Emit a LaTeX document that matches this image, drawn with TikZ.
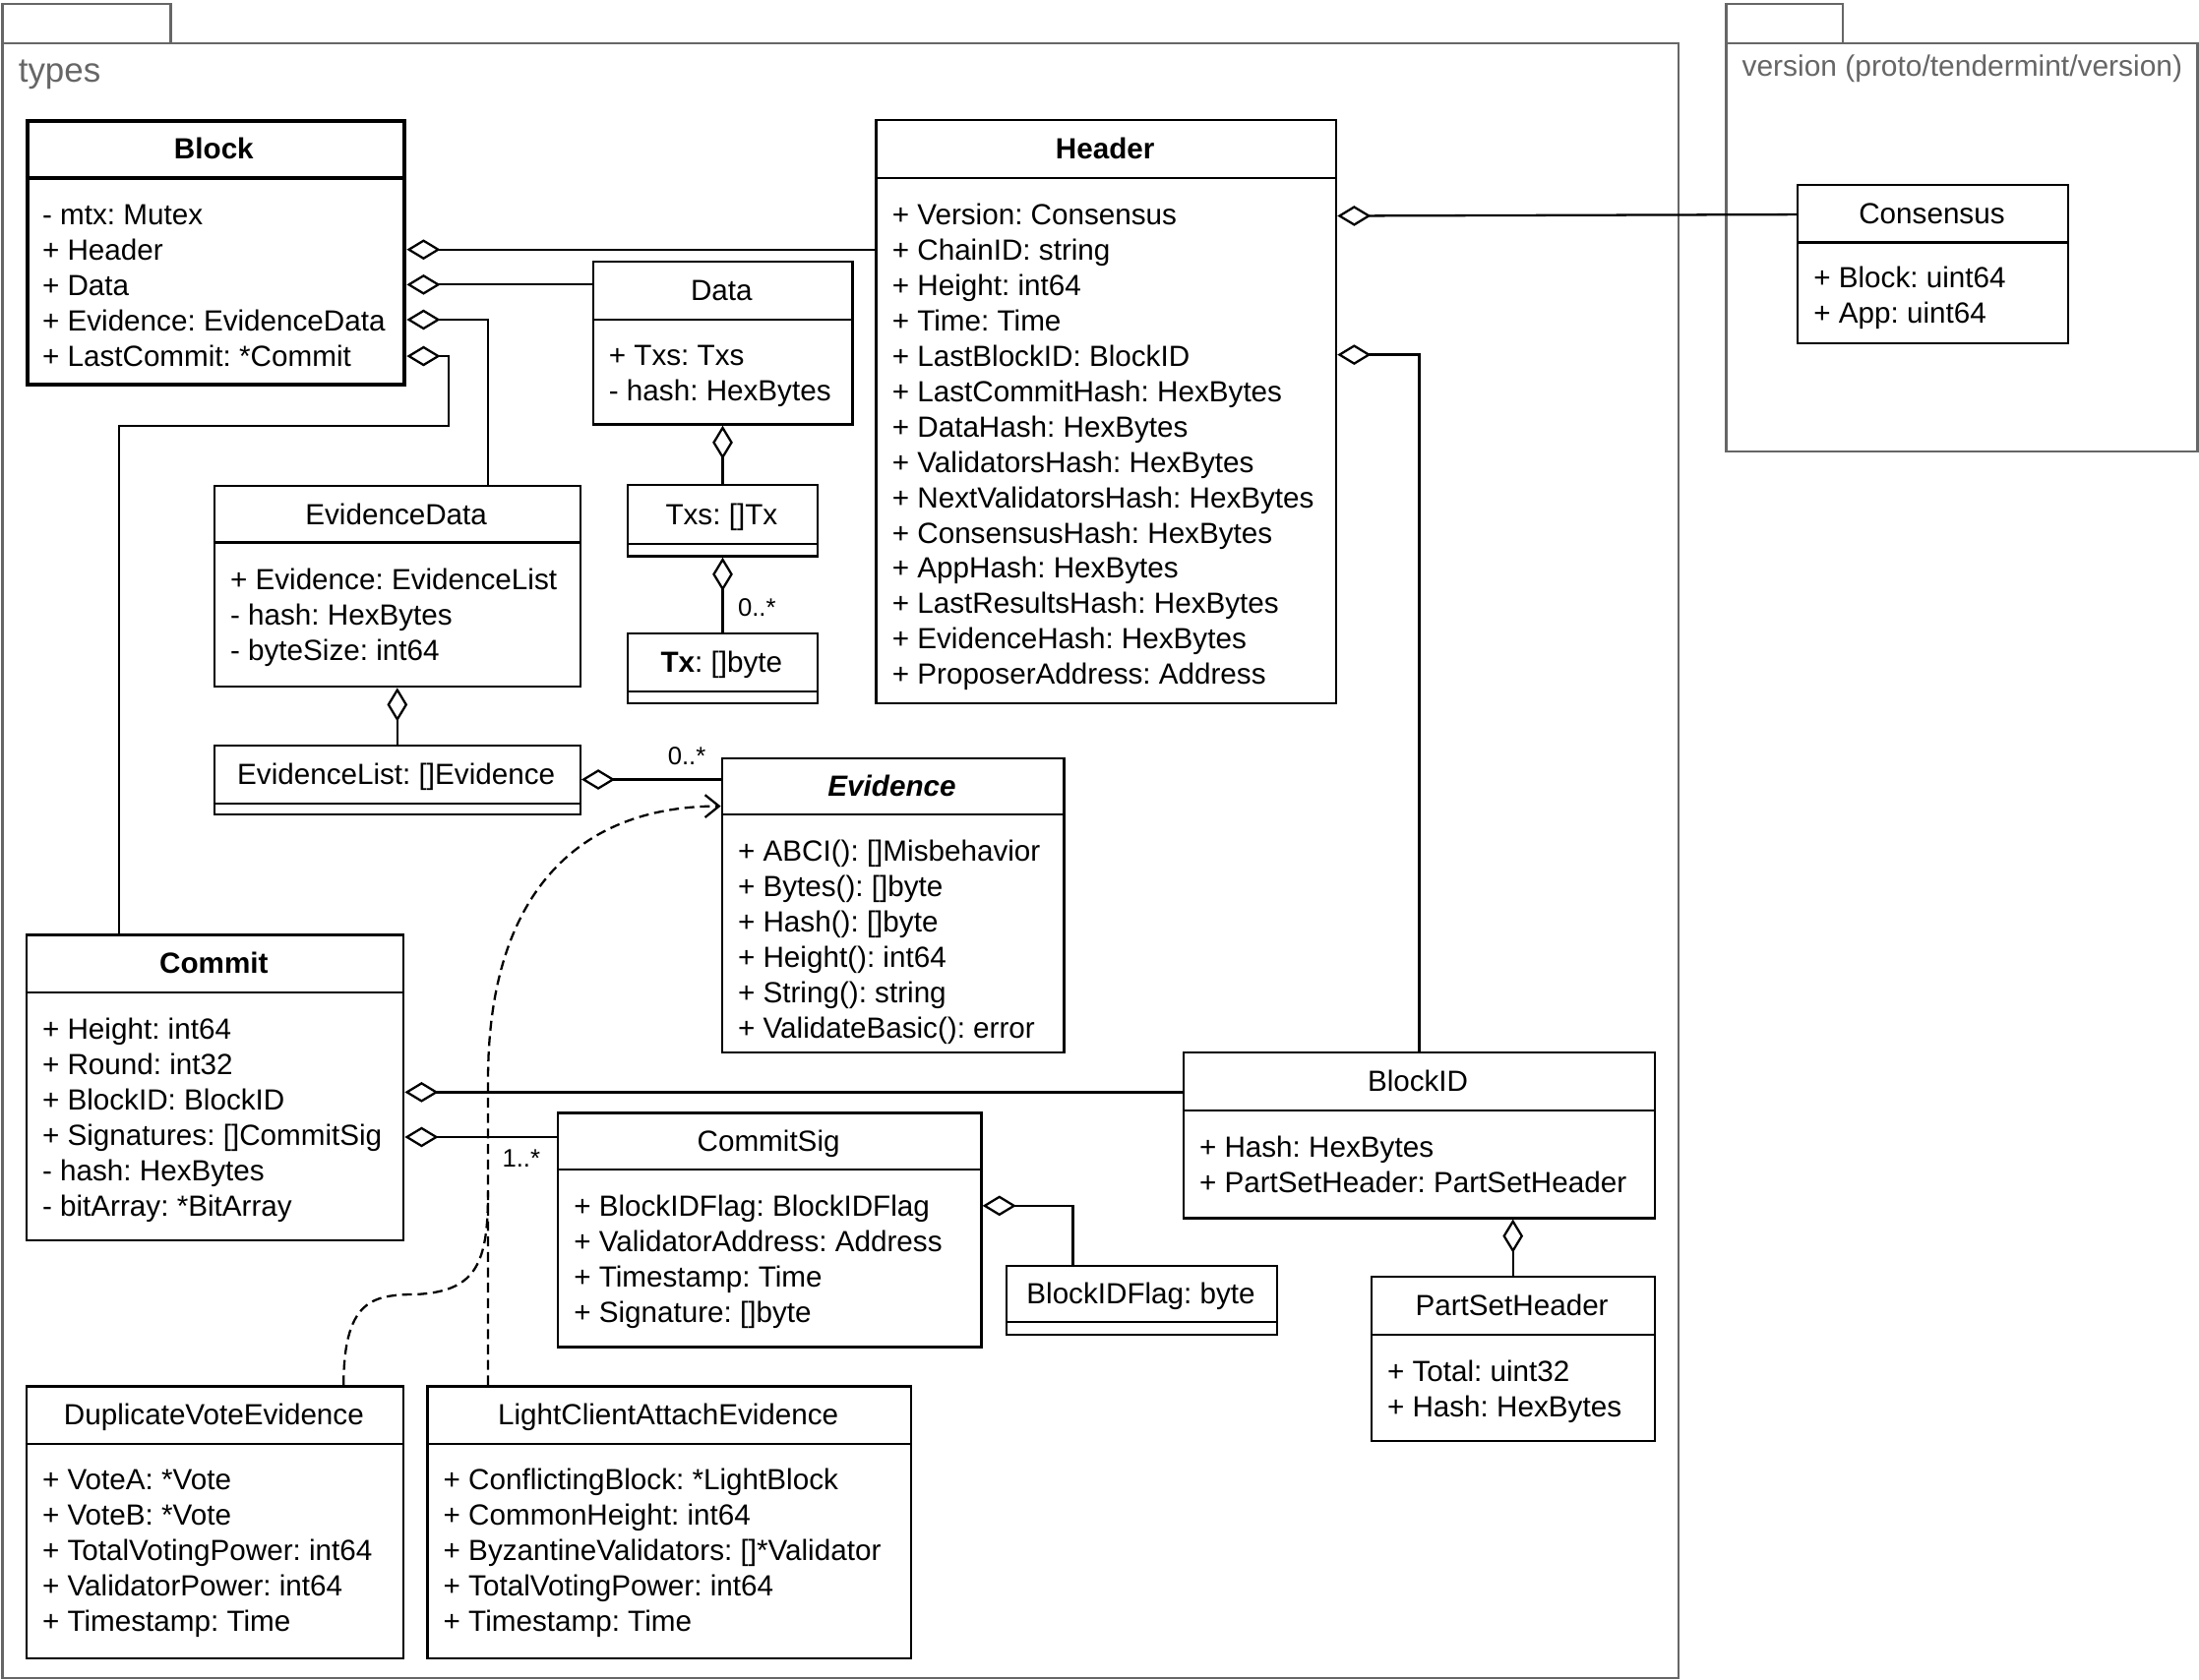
\documentclass[tikz,border=0pt]{standalone}
\usepackage{fontspec}
\setmainfont{Liberation Sans}
\usetikzlibrary{arrows.meta}
\definecolor{pkggray}{HTML}{666666}
\frenchspacing
\newcommand\fnt{\fontsize{20.8pt}{25pt}\selectfont}
\tikzset{
  box/.style={draw, line width=1.6pt, inner sep=0pt, anchor=north west},
  pkg/.style={draw=pkggray, line width=1.7pt, inner sep=0pt, anchor=north west},
  divline/.style={line width=1.6pt},
  tx/.style={inner sep=0pt, text height=15pt, text depth=0pt, font=\fnt},
  mult/.style={inner sep=0pt, text height=12.6pt, text depth=0pt, font=\fontsize{18pt}{20pt}\selectfont, anchor=west},
  agg/.style={line width=1.6pt, arrows={Diamond[open,length=24pt,width=14.5pt]-}},
  dep/.style={line width=1.6pt, dash pattern=on 7pt off 4pt, arrows={-Straight Barb[length=10pt,width=16pt]}}
}
\newcommand\umlbox[8][]{% [extra] name,x1,y1,x2,y2,divider,title
  \node[box,#1, minimum width={(#5-#3)*1pt}, minimum height={(#6-#4)*1pt}] (#2) at (#3,#4) {};
  \draw[divline,#1] (#2.west |- 0,#7) -- (#2.east |- 0,#7);
  \node[tx] (#2-t) at ({(#3+#5)/2},{(#4+#7)/2}) {#8};
}
\newcommand\attrs[4]{% name, x, y0, list
  \foreach \a [count=\i from 0] in {#4}
    \node[tx, anchor=west] (#1-a\i) at (#2, {#3+25.2*\i}) {\a};
}
\begin{document}
\begin{tikzpicture}[x=1pt,y=-1pt]
\useasboundingbox (0,0) rectangle (1568,1198);
% packages
\node[pkg, minimum width=120pt, minimum height=28pt] (typesTab) at (1,2) {};
\node[pkg, minimum width=1195pt, minimum height=1166pt] (types) at (1,30) {};
\node[tx, anchor=west, text=pkggray, font=\fontsize{24.5pt}{26pt}\selectfont, text height=17pt] (typesL) at (13,50) {types};
\node[pkg, minimum width=83pt, minimum height=28pt] (verTab) at (1230,2) {};
\node[pkg, minimum width=336pt, minimum height=291pt] (ver) at (1230,30) {};
\node[tx, anchor=west, text=pkggray, font=\fontsize{21pt}{24pt}\selectfont] (verL) at (1242,47) {version (proto/tendermint/version)};

% classes
\umlbox[line width=3pt]{block}{18}{85}{287}{273}{127}{\textbf{Block}}
\attrs{block}{30}{153}{{- mtx: Mutex},{+ Header},{+ Data},{+ Evidence: EvidenceData},{+ LastCommit: *Commit}}

\umlbox{header}{624}{85}{952}{501}{127}{\textbf{Header}}
\attrs{header}{636}{153}{{+ Version: Consensus},{+ ChainID: string},{+ Height: int64},{+ Time: Time},{+ LastBlockID: BlockID},{+ LastCommitHash: HexBytes},{+ DataHash: HexBytes},{+ ValidatorsHash: HexBytes},{+ NextValidatorsHash: HexBytes},{+ ConsensusHash: HexBytes},{+ AppHash: HexBytes},{+ LastResultsHash: HexBytes},{+ EvidenceHash: HexBytes},{+ ProposerAddress: Address}}

\umlbox{consensus}{1281}{131}{1474}{244}{173}{Consensus}
\attrs{consensus}{1293}{198}{{+ Block: uint64},{+ App: uint64}}

\umlbox{data}{422}{186}{607}{302}{228}{Data}
\attrs{data}{434}{253}{{+ Txs: Txs},{- hash: HexBytes}}

\umlbox{txs}{447}{345}{582}{396}{388}{Txs: []Tx}
\umlbox{tx}{447}{451}{582}{501}{493}{\textbf{Tx}: []byte}

\umlbox{evdata}{152}{346}{413}{489}{387}{EvidenceData}
\attrs{evdata}{164}{413}{{+ Evidence: EvidenceList},{- hash: HexBytes},{- byteSize: int64}}

\umlbox{evlist}{152}{531}{413}{580}{573}{EvidenceList: []Evidence}

\umlbox{evidence}{514}{540}{758}{750}{581}{\textbf{\textit{Evidence}}}
\attrs{evidence}{526}{607}{{+ ABCI(): []Misbehavior},{+ Bytes(): []byte},{+ Hash(): []byte},{+ Height(): int64},{+ String(): string},{+ ValidateBasic(): error}}

\umlbox{commit}{18}{666}{287}{884}{708}{\textbf{Commit}}
\attrs{commit}{30}{734}{{+ Height: int64},{+ Round: int32},{+ BlockID: BlockID},{+ Signatures: []CommitSig},{- hash: HexBytes},{- bitArray: *BitArray}}

\umlbox{blockid}{843}{750}{1179}{868}{792}{BlockID}
\attrs{blockid}{855}{818}{{+ Hash: HexBytes},{+ PartSetHeader: PartSetHeader}}

\umlbox{commitsig}{397}{793}{699}{960}{834}{CommitSig}
\attrs{commitsig}{409}{860}{{+ BlockIDFlag: BlockIDFlag},{+ ValidatorAddress: Address},{+ Timestamp: Time},{+ Signature: []byte}}

\umlbox{bflag}{717}{902}{910}{951}{943}{BlockIDFlag: byte}

\umlbox{psh}{977}{910}{1179}{1027}{952}{PartSetHeader}
\attrs{psh}{989}{978}{{+ Total: uint32},{+ Hash: HexBytes}}

\umlbox{dve}{18}{988}{287}{1182}{1030}{DuplicateVoteEvidence}
\attrs{dve}{30}{1055}{{+ VoteA: *Vote},{+ VoteB: *Vote},{+ TotalVotingPower: int64},{+ ValidatorPower: int64},{+ Timestamp: Time}}

\umlbox{lcae}{304}{988}{649}{1182}{1030}{LightClientAttachEvidence}
\attrs{lcae}{316}{1055}{{+ ConflictingBlock: *LightBlock},{+ CommonHeight: int64},{+ ByzantineValidators: []*Validator},{+ TotalVotingPower: int64},{+ Timestamp: Time}}

% aggregations
\draw[agg] (block.east |- 0,178) -- (header.west |- 0,178);
\draw[agg] (block.east |- 0,203) -- (data.west |- 0,203);
\draw[agg] (block.east |- 0,228) -| (evdata.north -| 348,0);
\draw[agg] (block.east |- 0,254) -| (320,304) -| (commit.north -| 85,0);
\draw[agg] (header.east |- 0,154) -- (consensus.west |- 0,153);
\draw[agg] (header.east |- 0,253) -| (blockid.north -| 1012,0);
\draw[agg] (data.south) -- (txs.north);
\draw[agg] (txs.south) -- (tx.north);
\node[mult] (m1) at (526,433) {0..*};
\draw[agg] (evdata.south) -- (evlist.north);
\draw[agg] (evlist.east |- 0,556) -- (evidence.west |- 0,556);
\node[mult] (m2) at (476,539) {0..*};
\draw[agg] (commit.east |- 0,779) -- (blockid.west |- 0,779);
\draw[agg] (commit.east |- 0,811) -- (commitsig.west |- 0,811);
\node[mult] (m3) at (358,826) {1..*};
\draw[agg] (commitsig.east |- 0,860) -| (bflag.north -| 765,0);
\draw[agg] (blockid.south -| psh.north) -- (psh.north);

% realizations (dashed)
\draw[dep] (lcae.north -| 348,0) -- (348,770) .. controls (348,640) and (410,575) .. (evidence.west |- 0,575);
\draw[line width=1.6pt, dash pattern=on 7pt off 4pt] (dve.north -| 245,0) .. controls (245,922) and (270,924) .. (300,923) .. controls (340,920) and (348,900) .. (348,850);
\end{tikzpicture}
\end{document}
